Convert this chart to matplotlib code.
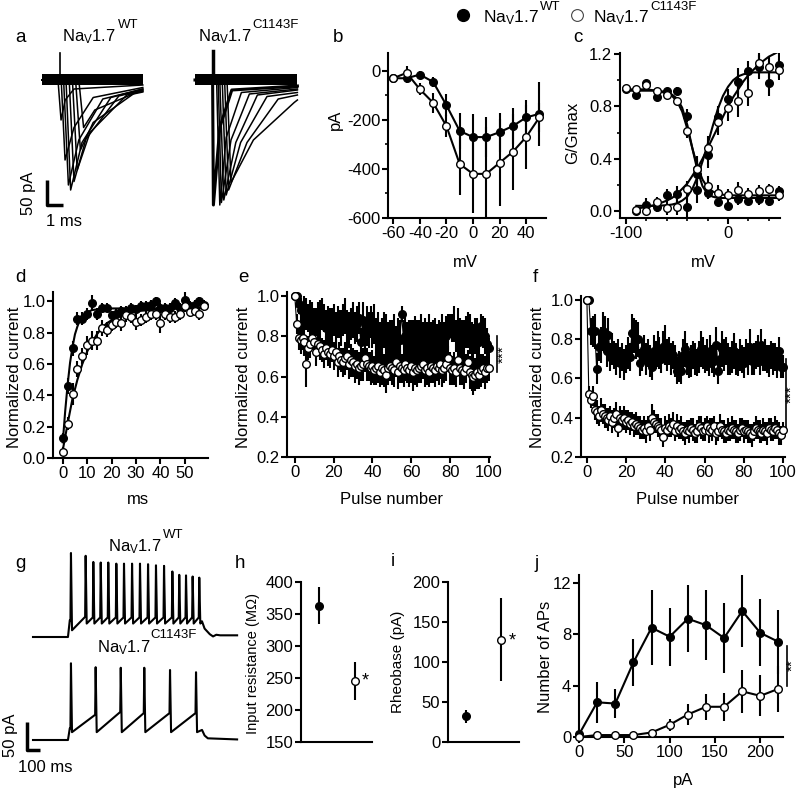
import matplotlib.pyplot as plt
from matplotlib.lines import Line2D

plt.rcParams['font.family'] = ['Liberation Sans', 'DejaVu Sans']
plt.rcParams['mathtext.fontset'] = 'custom'
plt.rcParams['mathtext.rm'] = 'Liberation Sans'
plt.rcParams['mathtext.it'] = 'Liberation Sans:italic'
plt.rcParams['axes.unicode_minus'] = False

# ---------------- data ----------------
# a: Na current traces (ms, pA); key points of each sweep
a_len = 6.3
a_wt_on = [1.00, 1.20, 1.35, 1.50, 1.70, 1.90, 2.10, 2.30]
a_wt_pk_t = [1.19, 1.44, 1.65, 1.79, 2.00, 2.20, 2.40, 2.60]
a_wt_pk = [-80, -160, -210, -220, -203, -180, -140, -95]
a_wt_mid_t = [1.45, 2.00, 2.30, 2.50, 2.75, 3.00, 3.20, 3.30]
a_wt_mid = [-40, -95, -120, -125, -118, -105, -85, -60]
a_wt_end_t = [2.0, 3.2, 3.8, 4.3, 4.8, 5.3, 5.7, 5.9]
a_wt_end = [-18, -35, -38, -35, -32, -30, -28, -25]
a_wt_last = [-10, -15, -18, -18, -20, -22, -24, -22]
a_wt_art = [1.10, 54]

a_mut_len = 6.4
a_mut_on = [1.10, 1.35, 1.45, 1.55, 1.70, 1.85, 2.00]
a_mut_pk_t = [1.15, 1.55, 1.65, 1.80, 1.95, 2.10, 2.25]
a_mut_pk = [-250, -250, -245, -240, -230, -220, -205]
a_mut_mid_t = [1.55, 1.95, 2.25, 2.55, 2.85, 3.25, 3.65]
a_mut_mid = [-95, -115, -120, -125, -125, -125, -120]
a_mut_end_t = [2.3, 2.9, 3.4, 3.9, 4.5, 5.2, 6.2]
a_mut_end = [-20, -25, -28, -30, -33, -38, -45]
a_mut_last = [-12, -15, -18, -20, -25, -30, -40]
a_mut_art = [1.10, 57]

# b: I-V
b_mv = [-60, -50, -40, -30, -20, -10, 0, 10, 20, 30, 40, 50]
b_wt = [-30, -30, -15, -45, -140, -245, -270, -270, -250, -225, -190, -175]
b_wt_err = [15, 20, 15, 20, 45, 75, 93, 80, 80, 75, 73, 130]
b_mut = [-30, -8, -75, -130, -225, -380, -420, -420, -375, -330, -270, -190]
b_mut_err = [15, 30, 25, 40, 45, 126, 160, 190, 178, 156, 129, 60]

# c: activation / steady-state inactivation
c_act_mv = [-90, -80, -70, -60, -50, -40, -30, -20, -10, 0, 10, 20, 30, 40, 50]
c_act_wt = [0.00, 0.05, 0.03, 0.12, 0.13, 0.03, 0.16, 0.43, 0.72, 0.86, 0.99, 1.07, 1.10, 0.98, 1.12]
c_act_wt_err = [0.02, 0.05, 0.04, 0.05, 0.06, 0.08, 0.10, 0.10, 0.08, 0.07, 0.10, 0.08, 0.09, 0.10, 0.10]
c_act_mut = [0.01, 0.00, 0.07, 0.02, 0.03, 0.17, 0.32, 0.48, 0.68, 0.79, 0.84, 0.90, 1.13, 1.10, 1.08]
c_act_mut_err = [0.03, 0.03, 0.04, 0.05, 0.06, 0.06, 0.08, 0.09, 0.10, 0.10, 0.12, 0.10, 0.08, 0.08, 0.08]
c_inact_mv = [-100, -90, -80, -70, -60, -50, -40, -30, -20, -10, 0, 10, 20, 30, 40, 50]
c_inact_wt = [0.93, 0.89, 0.98, 0.87, 0.92, 0.92, 0.73, 0.28, 0.14, 0.07, 0.04, 0.09, 0.08, 0.09, 0.08, 0.15]
c_inact_wt_err = [0.03, 0.03, 0.02, 0.03, 0.02, 0.03, 0.05, 0.10, 0.05, 0.03, 0.03, 0.04, 0.03, 0.04, 0.04, 0.04]
c_inact_mut = [0.94, 0.93, 0.96, 0.92, 0.89, 0.84, 0.61, 0.32, 0.19, 0.14, 0.12, 0.16, 0.13, 0.15, 0.17, 0.12]
c_inact_mut_err = [0.02, 0.02, 0.02, 0.02, 0.03, 0.03, 0.05, 0.10, 0.08, 0.06, 0.05, 0.06, 0.05, 0.05, 0.04, 0.04]
# fitted Boltzmann curves
c_fit_mv = [-100, -90, -80, -70, -60, -55, -50, -45, -40, -35, -30, -25, -20, -15, -10, -5,
            0, 5, 10, 15, 20, 25, 30, 35, 40, 45, 50]
c_fit_inact_wt = [0.92, 0.92, 0.92, 0.92, 0.91, 0.89, 0.86, 0.79, 0.66, 0.48, 0.31, 0.19, 0.13, 0.11,
                  0.10, 0.10, 0.10, 0.10, 0.10, 0.10, 0.10, 0.10, 0.10, 0.10, 0.10, 0.10, 0.10]
c_fit_inact_mut = [0.93, 0.93, 0.93, 0.92, 0.90, 0.88, 0.84, 0.76, 0.63, 0.48, 0.34, 0.24, 0.18, 0.15,
                   0.13, 0.125, 0.12, 0.12, 0.12, 0.12, 0.12, 0.12, 0.12, 0.12, 0.12, 0.12, 0.12]
c_fit_act_wt = [None, 0.04, 0.04, 0.04, 0.045, 0.05, 0.06, 0.08, 0.11, 0.17, 0.26, 0.38, 0.51, 0.65,
                0.78, 0.88, 0.95, 1.00, 1.03, 1.045, 1.055, 1.06, 1.06, 1.06, 1.06, 1.06, 1.06]
c_fit_act_mut = [None, 0.02, 0.03, 0.05, 0.08, 0.10, 0.13, 0.17, 0.21, 0.27, 0.33, 0.40, 0.48, 0.56,
                 0.64, 0.72, 0.80, 0.87, 0.93, 0.99, 1.04, 1.08, 1.12, 1.15, 1.18, 1.20, 1.22]

# d: recovery from inactivation
d_ms = [0, 2, 4, 6, 8, 10, 12, 14, 16, 18, 20, 22, 24, 26, 28, 30, 32, 34, 36, 38,
        40, 42, 44, 46, 48, 50, 52, 54, 56, 58]
d_wt = [0.13, 0.46, 0.70, 0.89, 0.89, 0.92, 0.99, 0.92, 0.96, 0.96, 0.91, 0.92, 0.94, 0.94, 0.96,
        0.95, 0.97, 0.97, 0.98, 1.00, 0.96, 0.96, 0.96, 0.99, 0.96, 1.01, 0.97, 0.98, 1.00, 0.98]
d_wt_err = [0.03, 0.05, 0.05, 0.04, 0.04, 0.04, 0.05, 0.04, 0.03, 0.03, 0.03, 0.03, 0.03, 0.03, 0.03,
            0.03, 0.03, 0.03, 0.03, 0.03, 0.03, 0.03, 0.03, 0.03, 0.03, 0.05, 0.03, 0.03, 0.03, 0.03]
d_mut = [0.04, 0.22, 0.41, 0.57, 0.65, 0.72, 0.75, 0.75, 0.83, 0.82, 0.85, 0.87, 0.86, 0.91, 0.90,
         0.87, 0.88, 0.90, 0.92, 0.92, 0.86, 0.92, 0.90, 0.90, 0.92, 0.97, 0.93, 0.94, 0.92, 0.97]
d_mut_err = [0.03, 0.04, 0.07, 0.05, 0.05, 0.06, 0.06, 0.06, 0.05, 0.05, 0.04, 0.04, 0.05, 0.04, 0.04,
             0.05, 0.04, 0.04, 0.04, 0.04, 0.06, 0.04, 0.04, 0.04, 0.04, 0.04, 0.03, 0.03, 0.04, 0.03]
d_fit_wt_t = [0, 1, 2, 3, 4, 5, 6, 7, 8, 10, 12, 15, 20, 30, 40, 50, 58]
d_fit_wt = [0.10, 0.30, 0.47, 0.61, 0.71, 0.79, 0.84, 0.88, 0.905, 0.93, 0.945, 0.95, 0.955,
            0.955, 0.955, 0.955, 0.955]
d_fit_mut_t = [0, 2, 4, 6, 8, 10, 12, 14, 16, 18, 20, 24, 28, 32, 40, 50, 58]
d_fit_mut = [0.05, 0.22, 0.38, 0.50, 0.60, 0.68, 0.74, 0.79, 0.83, 0.86, 0.88, 0.91, 0.93, 0.94,
             0.95, 0.955, 0.96]

# e, f: use-dependent decline, pulses 0..100
pulses = list(range(101))
e_wt = [1.00, 1.00, 0.96, 0.93, 0.86, 0.92, 0.91, 0.89, 0.90, 0.88,
        0.86, 0.87, 0.88, 0.90, 0.91, 0.89, 0.84, 0.87, 0.86, 0.85,
        0.88, 0.83, 0.87, 0.86, 0.84, 0.88, 0.90, 0.85, 0.83, 0.86,
        0.88, 0.84, 0.86, 0.89, 0.77, 0.88, 0.80, 0.85, 0.83, 0.87,
        0.83, 0.86, 0.80, 0.82, 0.78, 0.79, 0.83, 0.80, 0.77, 0.79,
        0.78, 0.80, 0.76, 0.79, 0.78, 0.91, 0.78, 0.80, 0.77, 0.79,
        0.78, 0.77, 0.80, 0.79, 0.78, 0.80, 0.77, 0.79, 0.78, 0.80,
        0.77, 0.79, 0.78, 0.76, 0.79, 0.77, 0.80, 0.78, 0.80, 0.82,
        0.85, 0.84, 0.86, 0.80, 0.84, 0.80, 0.78, 0.79, 0.82, 0.83,
        0.81, 0.78, 0.76, 0.80, 0.79, 0.77, 0.85, 0.82, 0.80, 0.76,
        0.74]
e_wt_err = [0.00, 0.03, 0.05, 0.06, 0.07, 0.08, 0.08, 0.07, 0.08, 0.09,
            0.08, 0.07, 0.09, 0.08, 0.08, 0.07, 0.09, 0.08, 0.08, 0.09,
            0.08, 0.09, 0.08, 0.07, 0.09, 0.08, 0.09, 0.08, 0.09, 0.08,
            0.09, 0.08, 0.09, 0.08, 0.07, 0.09, 0.08, 0.10, 0.09, 0.08,
            0.09, 0.10, 0.09, 0.10, 0.09, 0.10, 0.09, 0.11, 0.10, 0.09,
            0.10, 0.11, 0.09, 0.10, 0.10, 0.04, 0.10, 0.11, 0.10, 0.09,
            0.10, 0.11, 0.10, 0.09, 0.10, 0.11, 0.10, 0.10, 0.09, 0.11,
            0.10, 0.09, 0.11, 0.10, 0.09, 0.10, 0.11, 0.09, 0.10, 0.09,
            0.06, 0.07, 0.09, 0.08, 0.10, 0.09, 0.10, 0.09, 0.08, 0.09,
            0.10, 0.09, 0.10, 0.09, 0.10, 0.09, 0.06, 0.08, 0.09, 0.08,
            0.05]
e_mut = [1.00, 0.86, 0.79, 0.78, 0.79, 0.77, 0.66, 0.74, 0.76, 0.79,
         0.77, 0.72, 0.76, 0.75, 0.73, 0.71, 0.74, 0.72, 0.71, 0.73,
         0.70, 0.72, 0.67, 0.70, 0.68, 0.67, 0.69, 0.70, 0.66, 0.68,
         0.67, 0.65, 0.66, 0.64, 0.65, 0.66, 0.69, 0.66, 0.65, 0.64,
         0.65, 0.63, 0.64, 0.65, 0.62, 0.64, 0.63, 0.61, 0.64, 0.65,
         0.64, 0.63, 0.67, 0.62, 0.65, 0.64, 0.63, 0.66, 0.64, 0.63,
         0.65, 0.62, 0.64, 0.63, 0.64, 0.65, 0.66, 0.63, 0.64, 0.62,
         0.65, 0.64, 0.63, 0.65, 0.64, 0.66, 0.63, 0.64, 0.66, 0.69,
         0.64, 0.63, 0.64, 0.62, 0.68, 0.64, 0.63, 0.62, 0.64, 0.67,
         0.62, 0.61, 0.60, 0.61, 0.62, 0.61, 0.63, 0.64, 0.62, 0.64,
         0.64]
e_mut_err = [0.00, 0.05, 0.06, 0.07, 0.06, 0.07, 0.11, 0.06, 0.07, 0.06,
             0.06, 0.07, 0.06, 0.07, 0.06, 0.07, 0.06, 0.07, 0.07, 0.06,
             0.07, 0.06, 0.07, 0.07, 0.06, 0.07, 0.08, 0.07, 0.07, 0.08,
             0.07, 0.08, 0.07, 0.08, 0.07, 0.08, 0.07, 0.08, 0.07, 0.08,
             0.08, 0.07, 0.08, 0.08, 0.07, 0.08, 0.08, 0.09, 0.08, 0.07,
             0.08, 0.08, 0.07, 0.08, 0.08, 0.07, 0.08, 0.08, 0.07, 0.08,
             0.08, 0.09, 0.08, 0.08, 0.07, 0.08, 0.07, 0.08, 0.08, 0.07,
             0.08, 0.07, 0.08, 0.07, 0.08, 0.07, 0.08, 0.07, 0.08, 0.06,
             0.08, 0.07, 0.08, 0.07, 0.06, 0.08, 0.07, 0.08, 0.07, 0.06,
             0.08, 0.08, 0.09, 0.08, 0.08, 0.07, 0.08, 0.07, 0.08, 0.07,
             0.06]
f_wt = [1.00, 1.00, 0.84, 0.84, 0.84, 0.65, 0.76, 0.77, 0.84, 0.83,
        0.74, 0.82, 0.71, 0.75, 0.72, 0.70, 0.73, 0.68, 0.71, 0.67,
        0.70, 0.73, 0.71, 0.83, 0.82, 0.80, 0.80, 0.68, 0.72, 0.75,
        0.70, 0.73, 0.69, 0.66, 0.74, 0.72, 0.75, 0.73, 0.70, 0.76,
        0.77, 0.72, 0.74, 0.70, 0.72, 0.69, 0.64, 0.66, 0.64, 0.72,
        0.75, 0.70, 0.67, 0.69, 0.72, 0.70, 0.68, 0.71, 0.75, 0.73,
        0.70, 0.72, 0.68, 0.74, 0.70, 0.69, 0.77, 0.64, 0.70, 0.75,
        0.72, 0.74, 0.70, 0.69, 0.71, 0.74, 0.70, 0.68, 0.72, 0.70,
        0.68, 0.73, 0.70, 0.76, 0.69, 0.70, 0.72, 0.74, 0.69, 0.77,
        0.71, 0.72, 0.70, 0.69, 0.72, 0.70, 0.71, 0.68, 0.74, 0.66,
        0.66]
f_wt_err = [0.00, 0.02, 0.07, 0.08, 0.09, 0.08, 0.07, 0.09, 0.10, 0.09,
            0.08, 0.09, 0.07, 0.08, 0.07, 0.08, 0.07, 0.08, 0.07, 0.08,
            0.07, 0.08, 0.07, 0.10, 0.09, 0.10, 0.09, 0.07, 0.08, 0.07,
            0.08, 0.07, 0.08, 0.07, 0.08, 0.07, 0.09, 0.08, 0.07, 0.08,
            0.10, 0.08, 0.07, 0.08, 0.07, 0.08, 0.07, 0.08, 0.07, 0.08,
            0.09, 0.08, 0.07, 0.08, 0.07, 0.08, 0.07, 0.08, 0.09, 0.08,
            0.07, 0.08, 0.07, 0.08, 0.07, 0.08, 0.09, 0.07, 0.08, 0.09,
            0.08, 0.07, 0.08, 0.07, 0.08, 0.09, 0.08, 0.07, 0.08, 0.07,
            0.08, 0.07, 0.08, 0.09, 0.07, 0.08, 0.07, 0.08, 0.07, 0.08,
            0.07, 0.08, 0.07, 0.08, 0.07, 0.08, 0.07, 0.08, 0.07, 0.06,
            0.06]
f_mut = [1.00, 0.52, 0.49, 0.51, 0.44, 0.43, 0.41, 0.44, 0.42, 0.41,
         0.40, 0.39, 0.41, 0.38, 0.40, 0.42, 0.35, 0.40, 0.39, 0.40,
         0.38, 0.39, 0.37, 0.38, 0.36, 0.37, 0.36, 0.35, 0.34, 0.35,
         0.33, 0.36, 0.34, 0.40, 0.38, 0.37, 0.36, 0.35, 0.34, 0.30,
         0.35, 0.34, 0.36, 0.35, 0.37, 0.33, 0.36, 0.34, 0.35, 0.33,
         0.32, 0.34, 0.33, 0.35, 0.34, 0.32, 0.33, 0.36, 0.35, 0.33,
         0.34, 0.36, 0.33, 0.35, 0.34, 0.36, 0.32, 0.33, 0.36, 0.34,
         0.33, 0.32, 0.34, 0.33, 0.35, 0.34, 0.33, 0.32, 0.34, 0.35,
         0.33, 0.34, 0.33, 0.32, 0.31, 0.33, 0.35, 0.34, 0.33, 0.32,
         0.34, 0.33, 0.32, 0.35, 0.34, 0.33, 0.35, 0.34, 0.32, 0.31,
         0.34]
f_mut_err = [0.00, 0.04, 0.04, 0.05, 0.05, 0.06, 0.05, 0.06, 0.05, 0.06,
             0.05, 0.06, 0.05, 0.06, 0.05, 0.06, 0.05, 0.06, 0.05, 0.06,
             0.06, 0.05, 0.06, 0.05, 0.06, 0.06, 0.05, 0.06, 0.05, 0.06,
             0.06, 0.05, 0.06, 0.07, 0.06, 0.05, 0.06, 0.05, 0.06, 0.05,
             0.06, 0.05, 0.06, 0.05, 0.06, 0.05, 0.06, 0.05, 0.06, 0.05,
             0.06, 0.05, 0.06, 0.05, 0.06, 0.05, 0.06, 0.05, 0.06, 0.05,
             0.06, 0.05, 0.06, 0.05, 0.06, 0.05, 0.06, 0.05, 0.06, 0.05,
             0.06, 0.05, 0.06, 0.05, 0.06, 0.05, 0.06, 0.05, 0.06, 0.05,
             0.06, 0.05, 0.06, 0.05, 0.06, 0.05, 0.06, 0.05, 0.06, 0.05,
             0.06, 0.05, 0.06, 0.05, 0.06, 0.05, 0.06, 0.05, 0.06, 0.05,
             0.04]

# g: action potential trains (ms, trace units)
g_wt_head_t = [0, 269, 283]
g_wt_head_v = [0, 0, 30]
g_wt_spk = [292, 405, 464, 521, 579, 641, 700, 762, 823, 885, 946, 1008, 1072, 1125, 1177, 1228, 1279]
g_wt_pk = [150, 145, 134, 133, 133, 131, 131, 131, 131, 130, 128, 127, 117, 111, 110, 108, 106]
g_wt_pre = [30, 36, 35, 35, 35, 35, 35, 35, 35, 35, 35, 35, 35, 35, 35, 35, 35]
g_wt_tr = [12, 24, 24, 24, 24, 24, 24, 24, 24, 24, 24, 24, 24, 24, 24, 24, 24]
g_wt_tail_t = [1300, 1320, 1360, 1385, 1410, 1440, 1570]
g_wt_tail_v = [28, 15, 5, 1, 4, 3, 3]

g_mut_head_t = [0, 269, 283]
g_mut_head_v = [0, 0, 21]
g_mut_spk = [292, 482, 675, 856, 1054, 1254]
g_mut_pk = [137, 130, 129, 129, 125, 121]
g_mut_pre = [21, 45, 50, 48, 48, 48]
g_mut_tr = [14, 14, 14, 14, 14, 14]
g_mut_tail_t = [1300, 1320, 1345, 1570]
g_mut_tail_v = [18, 8, 3, 1]

# h, i: passive properties
hi_x = [1, 2]
h_val = [363, 245]
h_err = [29, 30]
i_val = [32, 128]
i_err = [8, 52]

# j: APs vs injected current
j_pa = [0, 20, 40, 60, 80, 100, 120, 140, 160, 180, 200, 220]
j_wt = [0.2, 2.7, 2.6, 5.8, 8.5, 7.8, 9.2, 8.7, 7.7, 9.8, 8.1, 7.4]
j_wt_err = [0.2, 1.6, 1.15, 1.8, 2.9, 2.25, 2.6, 2.7, 2.7, 2.8, 2.6, 2.5]
j_mut = [0.0, 0.15, 0.15, 0.15, 0.35, 0.95, 1.75, 2.35, 2.35, 3.55, 3.2, 3.75]
j_mut_err = [0.0, 0.1, 0.1, 0.1, 0.2, 0.45, 0.8, 1.0, 1.1, 1.7, 1.6, 1.8]

# ---------------- figure ----------------
W, H = 800, 792
fig = plt.figure(figsize=(8, 7.92), dpi=100)


def px_axes(l, t, r, b):
    return fig.add_axes([l / W, 1 - b / H, (r - l) / W, (b - t) / H])


def ftext(x, y, s, **kw):
    kw.setdefault('fontsize', 12)
    fig.text(x / W, 1 - y / H, s, **kw)


def style(ax):
    for s in ['top', 'right']:
        ax.spines[s].set_visible(False)
    for s in ['left', 'bottom']:
        ax.spines[s].set_linewidth(1.5)
    ax.tick_params(direction='out', length=4, width=1.5, labelsize=12, pad=1.5)
    ax.tick_params(which='minor', direction='out', length=2.5, width=1.2)
    ax.patch.set_alpha(0)


def pts(ax, x, y, err, filled, line=False, lw=1.5, ms=5.5, z=3):
    c = ax.errorbar(x, y, yerr=err, fmt='o-' if line else 'o', color='black',
                    mfc='black' if filled else 'white', mec='black', mew=1, ms=ms,
                    elinewidth=1.5, capsize=0, lw=lw, zorder=z)
    c.lines[0].set_clip_on(False)
    return c


nav = r'Na$_{\rm V}$1.7'

# ---- legend on top
fig.add_artist(Line2D([463 / W], [1 - 15 / H], transform=fig.transFigure, marker='o',
                      ms=8.5, mfc='black', mec='black', ls='none'))
fig.add_artist(Line2D([577 / W], [1 - 15 / H], transform=fig.transFigure, marker='o',
                      ms=8.5, mfc='white', mec='#444444', mew=0.8, ls='none'))
ftext(483, 18, nav, fontsize=12.5, ha='left', va='center')
ftext(540, 7, 'WT', fontsize=9.5, ha='left', va='center')
ftext(593, 18, nav, fontsize=12.5, ha='left', va='center')
ftext(650, 7, 'C1143F', fontsize=9.5, ha='left', va='center')

# ---- panel letters
for lab, x, y in [('a', 20, 37), ('b', 338, 37), ('c', 578, 37), ('d', 20, 278),
                  ('e', 243, 278), ('f', 535, 278), ('g', 20, 563), ('h', 240, 563),
                  ('i', 393, 562), ('j', 537, 563)]:
    ftext(x, y, lab, fontsize=13.5, ha='center', va='center')

# ---- a: current traces
ax = px_axes(0, 40, 300, 240)
ax.set_xlim(-42 / 16, (300 - 42) / 16)
ax.set_ylim(-320, 80)
ax.axis('off')
mut_shift = (195 - 42) / 16
ax.fill_between([0, a_len], -11, 11, color='black', lw=0)
ax.fill_between([mut_shift, mut_shift + a_mut_len], -11, 11, color='black', lw=0)
ax.plot([a_wt_art[0]] * 2, [0, a_wt_art[1]], color='black', lw=1.2)
ax.plot([mut_shift + a_mut_art[0]] * 2, [0, a_mut_art[1]], color='black', lw=2.5)
for i in range(len(a_wt_pk)):
    t = [0, a_wt_on[i], a_wt_pk_t[i], a_wt_mid_t[i], a_wt_end_t[i], a_len]
    v = [0, 0, a_wt_pk[i], a_wt_mid[i], a_wt_end[i], a_wt_last[i]]
    ax.plot(t, v, color='black', lw=1.1)
for i in range(len(a_mut_pk)):
    t = [0, a_mut_on[i], a_mut_pk_t[i], a_mut_mid_t[i], a_mut_end_t[i], a_mut_len]
    v = [0, 0, a_mut_pk[i], a_mut_mid[i], a_mut_end[i], a_mut_last[i]]
    ax.plot([mut_shift + s for s in t], v, color='black', lw=2.2 if i == 0 else 1.1)
# scale bar 50 pA / 1 ms
ax.plot([0.31, 0.31, 1.31], [-200, -250, -250], color='black', lw=2.5, solid_capstyle='butt')
ftext(28, 193, '50 pA', rotation=90, ha='center', va='center')
ftext(64, 222, '1 ms', ha='center', va='center')
ftext(62, 37, nav, ha='left', va='center')
ftext(118, 25, 'WT', fontsize=9.5, ha='left', va='center')
ftext(198, 37, nav, ha='left', va='center')
ftext(252, 25, 'C1143F', fontsize=9.5, ha='left', va='center')

# ---- b: I-V
ax = px_axes(388, 53, 546, 218)
style(ax)
pts(ax, b_mv, b_wt, b_wt_err, True, line=True)
pts(ax, b_mv, b_mut, b_mut_err, False, line=True)
ax.set_xlim(-64, 55)
ax.set_ylim(-600, 73)
ax.set_xticks([-60, -40, -20, 0, 20, 40])
ax.set_yticks([0, -200, -400, -600])
ax.set_yticks([-100, -300, -500], minor=True)
ftext(335, 120, 'pA', rotation=90, ha='center', va='center')
ftext(465, 262, 'mV', ha='center', va='center')

# ---- c: G/Gmax
ax = px_axes(620, 53, 780, 218)
style(ax)
ax.plot(c_fit_mv, c_fit_inact_wt, color='black', lw=1.5, zorder=2)
ax.plot(c_fit_mv, c_fit_inact_mut, color='black', lw=1.5, zorder=2)
ax.plot(c_fit_mv, c_fit_act_wt, color='black', lw=1.5, zorder=2)
ax.plot(c_fit_mv, c_fit_act_mut, color='black', lw=1.5, zorder=2)
pts(ax, c_inact_mv, c_inact_wt, c_inact_wt_err, True)
pts(ax, c_act_mv, c_act_wt, c_act_wt_err, True)
pts(ax, c_inact_mv, c_inact_mut, c_inact_mut_err, False)
pts(ax, c_act_mv, c_act_mut, c_act_mut_err, False)
ax.set_xlim(-106, 51)
ax.set_ylim(-0.053, 1.208)
ax.set_xticks([-100, 0])
ax.set_xticks([-80, -60, -40, -20, 20, 40], minor=True)
ax.set_yticks([0, 0.4, 0.8, 1.2])
ax.set_yticklabels(['0.0', '0.4', '0.8', '1.2'])
ax.set_yticks([0.2, 0.6, 1.0], minor=True)
ftext(573, 133, 'G/Gmax', rotation=90, ha='center', va='center')
ftext(703, 262, 'mV', ha='center', va='center')

# ---- d: recovery
ax = px_axes(53, 292, 208, 458)
style(ax)
ax.plot(d_fit_wt_t, d_fit_wt, color='black', lw=1.5, zorder=2)
ax.plot(d_fit_mut_t, d_fit_mut, color='black', lw=1.5, zorder=2)
pts(ax, d_ms, d_wt, d_wt_err, True)
pts(ax, d_ms, d_mut, d_mut_err, False)
ax.set_xlim(-4, 59.5)
ax.set_ylim(0, 1.06)
ax.set_xticks([0, 10, 20, 30, 40, 50])
ax.set_yticks([0, 0.2, 0.4, 0.6, 0.8, 1.0])
ax.set_yticklabels(['0.0', '0.2', '0.4', '0.6', '0.8', '1.0'])
ftext(15, 377, 'Normalized current', rotation=90, ha='center', va='center')
ftext(138, 500, 'ms', ha='center', va='center')

# ---- e, f: use dependence
for (l, r, top, xl, wt, wte, mut, mute, ylab_x, bar_x, bar_y, star_x, star_y, xlim) in [
        (287, 490, 292, 392, e_wt, e_wt_err, e_mut, e_mut_err, 243, 104, (0.62, 0.80), 107.5, 0.71, (-4, 100.5)),
        (581, 785, 296, 687, f_wt, f_wt_err, f_mut, f_mut_err, 538, 101.3, (0.34, 0.70), 104.2, 0.52, (-3, 101))]:
    ax = px_axes(l, top, r, 457)
    style(ax)
    pts(ax, pulses, wt, wte, True, line=True, lw=0.8, ms=5.5)
    pts(ax, pulses, mut, mute, False, line=True, lw=0.8, ms=5.5)
    ax.set_xlim(*xlim)
    ax.set_ylim(0.2, 1.02)
    ax.set_xticks([0, 20, 40, 60, 80, 100])
    ax.set_yticks([0.2, 0.4, 0.6, 0.8, 1.0])
    ax.set_yticklabels(['0.2', '0.4', '0.6', '0.8', '1.0'])
    ax.plot([bar_x, bar_x], list(bar_y), color='black', lw=1.2, clip_on=False)
    ax.text(star_x, star_y, '***', rotation=90, ha='center', va='center', fontsize=11)
    ftext(ylab_x, 377, 'Normalized current', rotation=90, ha='center', va='center')
    ftext(xl, 500, 'Pulse number', ha='center', va='center')

# ---- g: AP traces
ax = px_axes(0, 540, 240, 780)
ax.set_xlim(-33 / 0.13, 207 / 0.13)
ax.set_ylim((637 - 780) / 0.56, (637 - 540) / 0.56)
ax.axis('off')
mut_off = (637 - 740) / 0.56
for head_t, head_v, spk, pk, pre, tr, tail_t, tail_v, off in [
        (g_wt_head_t, g_wt_head_v, g_wt_spk, g_wt_pk, g_wt_pre, g_wt_tr, g_wt_tail_t, g_wt_tail_v, 0),
        (g_mut_head_t, g_mut_head_v, g_mut_spk, g_mut_pk, g_mut_pre, g_mut_tr, g_mut_tail_t, g_mut_tail_v, mut_off)]:
    t = list(head_t)
    v = list(head_v)
    for s, p, a, b in zip(spk, pk, pre, tr):
        t += [s - 4, s, s + 8]
        v += [a, p, b]
    t += tail_t
    v += tail_v
    ax.plot(t, [x + off for x in v], color='black', lw=1.5)
ax.plot([-46, -46, 54], [-151.8, -201.8, -201.8], color='black', lw=2.5, solid_capstyle='butt')
ftext(10, 735, '50 pA', rotation=90, ha='center', va='center')
ftext(45, 768, '100 ms', ha='center', va='center')
ftext(108, 547, nav, ha='left', va='center')
ftext(163, 535, 'WT', fontsize=9.5, ha='left', va='center')
ftext(97, 648, nav, ha='left', va='center')
ftext(150, 635, 'C1143F', fontsize=9.5, ha='left', va='center')

# ---- h: input resistance
ax = px_axes(301, 582, 372, 742)
style(ax)
pts(ax, hi_x[:1], h_val[:1], h_err[:1], True)
pts(ax, hi_x[1:], h_val[1:], h_err[1:], False)
ax.set_xlim(0.5, 2.47)
ax.set_ylim(150, 400)
ax.set_xticks([])
ax.set_yticks([150, 200, 250, 300, 350, 400])
ax.text(2.28, h_val[1], '*', ha='center', va='center', fontsize=13)
ftext(253, 663, 'Input resistance (M\u03a9)', fontsize=10.5, rotation=90, ha='center', va='center')

# ---- i: rheobase
ax = px_axes(448, 582, 519, 742)
style(ax)
pts(ax, hi_x[:1], i_val[:1], i_err[:1], True)
pts(ax, hi_x[1:], i_val[1:], i_err[1:], False)
ax.set_xlim(0.49, 2.51)
ax.set_ylim(0, 200)
ax.set_xticks([])
ax.set_yticks([0, 50, 100, 150, 200])
ax.text(2.32, i_val[1] - 2, '*', ha='center', va='center', fontsize=13)
ftext(398, 662, 'Rheobase (pA)', fontsize=11, rotation=90, ha='center', va='center')

# ---- j: number of APs
ax = px_axes(579, 575, 783, 737)
style(ax)
pts(ax, j_pa, j_wt, j_wt_err, True, line=True)
pts(ax, j_pa, j_mut, j_mut_err, False, line=True)
ax.set_xlim(0, 225)
ax.set_ylim(0, 12.6)
ax.set_xticks([0, 50, 100, 150, 200])
ax.set_yticks([0, 4, 8, 12])
ax.plot([229.5, 229.5], [4.0, 7.1], color='black', lw=1.2, clip_on=False)
ax.text(236, 5.6, '**', rotation=90, ha='center', va='center', fontsize=11)
ftext(545, 657, 'Number of APs', rotation=90, ha='center', va='center')
ftext(683, 780, 'pA', ha='center', va='center')

fig.savefig('out.png', dpi=100)
